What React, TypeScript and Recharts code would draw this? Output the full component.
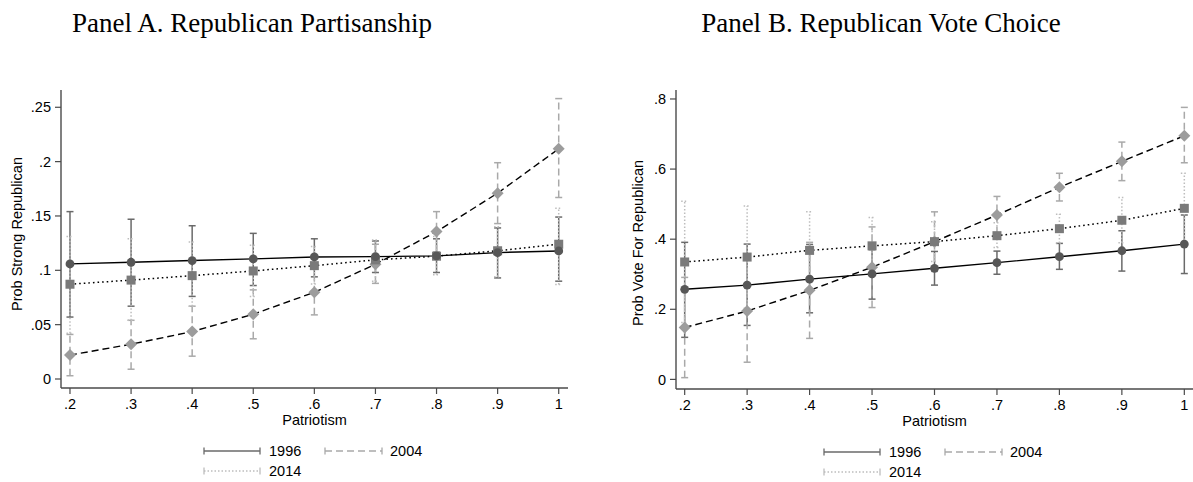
import React from 'react';
import { ComposedChart, Line, XAxis, YAxis, ErrorBar } from 'recharts';

// ---------- data ----------
const patriotism = [0.2, 0.3, 0.4, 0.5, 0.6, 0.7, 0.8, 0.9, 1];
const xTicks = [0.2, 0.3, 0.4, 0.5, 0.6, 0.7, 0.8, 0.9, 1];
const yTicksA = [0, 0.05, 0.1, 0.15, 0.2, 0.25];
const yTicksB = [0, 0.2, 0.4, 0.6, 0.8];
const years = ['1996', '2004', '2014'];

// Panel A: Prob Strong Republican
const a1996 = [0.1059, 0.1074, 0.109, 0.1105, 0.1123, 0.1126, 0.1133, 0.1163, 0.1178];
const a1996Low = [0.057, 0.067, 0.076, 0.086, 0.094, 0.098, 0.098, 0.093, 0.09];
const a1996High = [0.154, 0.147, 0.141, 0.134, 0.129, 0.127, 0.129, 0.139, 0.149];
const a2004 = [0.022, 0.032, 0.0436, 0.0596, 0.0798, 0.1056, 0.1356, 0.171, 0.2118];
const a2004Low = [0.003, 0.009, 0.021, 0.037, 0.059, 0.088, 0.117, 0.143, 0.167];
const a2004High = [0.041, 0.054, 0.067, 0.082, 0.101, 0.124, 0.154, 0.199, 0.258];
const a2014 = [0.0872, 0.091, 0.0951, 0.0994, 0.1043, 0.1096, 0.113, 0.118, 0.124];
const a2014Low = [0.042, 0.054, 0.067, 0.076, 0.0875, 0.09, 0.096, 0.094, 0.087];
const a2014High = [0.131, 0.129, 0.126, 0.123, 0.122, 0.128, 0.131, 0.14, 0.157];

// Panel B: Prob Vote For Republican
const b1996 = [0.257, 0.269, 0.286, 0.301, 0.317, 0.333, 0.35, 0.367, 0.386];
const b1996Low = [0.12, 0.154, 0.19, 0.229, 0.269, 0.3, 0.314, 0.309, 0.302];
const b1996High = [0.391, 0.386, 0.385, 0.37, 0.365, 0.366, 0.388, 0.424, 0.469];
const b2004 = [0.148, 0.195, 0.254, 0.32, 0.393, 0.469, 0.548, 0.622, 0.695];
const b2004Low = [0.005, 0.049, 0.117, 0.205, 0.308, 0.416, 0.509, 0.567, 0.618];
const b2004High = [0.291, 0.341, 0.391, 0.435, 0.478, 0.522, 0.588, 0.677, 0.776];
const b2014 = [0.335, 0.349, 0.368, 0.381, 0.393, 0.41, 0.43, 0.454, 0.488];
const b2014Low = [0.162, 0.203, 0.257, 0.3, 0.336, 0.376, 0.389, 0.39, 0.388];
const b2014High = [0.508, 0.495, 0.478, 0.462, 0.45, 0.447, 0.471, 0.519, 0.588];

// ---------- helpers ----------
type Series = { v: number[]; lo: number[]; hi: number[] };

function buildRows(s96: Series, s04: Series, s14: Series) {
  return patriotism.map((x, i) => ({
    x,
    v1996: s96.v[i],
    e1996: [s96.v[i] - s96.lo[i], s96.hi[i] - s96.v[i]],
    v2004: s04.v[i],
    e2004: [s04.v[i] - s04.lo[i], s04.hi[i] - s04.v[i]],
    v2014: s14.v[i],
    e2014: [s14.v[i] - s14.lo[i], s14.hi[i] - s14.v[i]],
  }));
}

const rowsA = buildRows(
  { v: a1996, lo: a1996Low, hi: a1996High },
  { v: a2004, lo: a2004Low, hi: a2004High },
  { v: a2014, lo: a2014Low, hi: a2014High }
);
const rowsB = buildRows(
  { v: b1996, lo: b1996Low, hi: b1996High },
  { v: b2004, lo: b2004Low, hi: b2004High },
  { v: b2014, lo: b2014Low, hi: b2014High }
);

const fmt = (v: number) => {
  if (v === 0) return '0';
  if (v === 1) return '1';
  return String(v).replace(/^0/, '');
};

const SANS = '"Liberation Sans", Arial, Helvetica, sans-serif';
const SERIF = '"Liberation Serif", "Times New Roman", Times, serif';
const AXIS = '#4a4a4a';

const CI = {
  '1996': { stroke: '#6a6a6a', dash: undefined as string | undefined },
  '2004': { stroke: '#a9a9a9', dash: '7 4' },
  '2014': { stroke: '#bdbdbd', dash: '1.5 2' },
};

const circleDot = (p: any) => (
  <circle key={`c${p.index}`} cx={p.cx} cy={p.cy} r={4.4} fill="#575757" stroke="none" />
);
const diamondDot = (p: any) => (
  <path
    key={`d${p.index}`}
    d={`M${p.cx},${p.cy - 6} L${p.cx + 6},${p.cy} L${p.cx},${p.cy + 6} L${p.cx - 6},${p.cy} Z`}
    fill="#9c9c9c"
    stroke="none"
  />
);
const squareDot = (p: any) => (
  <rect key={`s${p.index}`} x={p.cx - 4.5} y={p.cy - 4.5} width={9} height={9} fill="#7a7a7a" stroke="none" />
);

function Panel(props: {
  rows: any[];
  yTicks: number[];
  xDomain: [number, number];
  yDomain: [number, number];
  width: number;
  margin: { top: number; right: number; bottom: number; left: number };
}) {
  const { rows, yTicks, xDomain, yDomain, width, margin } = props;
  return (
    <ComposedChart width={width} height={482} data={rows} margin={margin}>
      <XAxis
        dataKey="x"
        type="number"
        domain={xDomain}
        allowDataOverflow
        ticks={xTicks}
        interval={0}
        tickFormatter={fmt}
        height={30}
        tickSize={6}
        tickMargin={5}
        axisLine={{ stroke: AXIS, strokeWidth: 1.4 }}
        tickLine={{ stroke: AXIS, strokeWidth: 1.2 }}
        tick={{ fill: '#000', fontSize: 14.5, fontFamily: SANS }}
      />
      <YAxis
        type="number"
        domain={yDomain}
        allowDataOverflow
        ticks={yTicks}
        interval={0}
        tickFormatter={fmt}
        width={50}
        tickSize={6}
        tickMargin={4}
        axisLine={{ stroke: AXIS, strokeWidth: 1.4 }}
        tickLine={{ stroke: AXIS, strokeWidth: 1.2 }}
        tick={{ fill: '#000', fontSize: 14.5, fontFamily: SANS }}
      />
      {/* confidence intervals first */}
      {years.map((yr) => (
        <Line
          key={`ci${yr}`}
          dataKey={`v${yr}`}
          stroke="none"
          dot={false}
          activeDot={false}
          legendType="none"
          isAnimationActive={false}
        >
          <ErrorBar
            dataKey={`e${yr}`}
            direction="y"
            width={3.5}
            stroke={CI[yr as '1996'].stroke}
            strokeWidth={1.5}
            strokeDasharray={CI[yr as '1996'].dash}
            isAnimationActive={false}
          />
        </Line>
      ))}
      <Line
        dataKey="v2004"
        stroke="#000"
        strokeWidth={1.4}
        strokeDasharray="7 4"
        dot={diamondDot}
        activeDot={false}
        isAnimationActive={false}
      />
      <Line
        dataKey="v2014"
        stroke="#000"
        strokeWidth={1.5}
        strokeDasharray="1.6 3"
        dot={squareDot}
        activeDot={false}
        isAnimationActive={false}
      />
      <Line
        dataKey="v1996"
        stroke="#000"
        strokeWidth={1.4}
        dot={circleDot}
        activeDot={false}
        isAnimationActive={false}
      />
    </ComposedChart>
  );
}

function LegendItem(props: { x1: number; x2: number; y: number; yr: '1996' | '2004' | '2014'; tx: number }) {
  const { x1, x2, y, yr, tx } = props;
  const st = CI[yr];
  return (
    <g>
      <g stroke={st.stroke} strokeWidth={1.5} strokeDasharray={st.dash}>
        <line x1={x1} y1={y} x2={x2} y2={y} />
      </g>
      <line x1={x1} y1={y - 3.5} x2={x1} y2={y + 3.5} stroke={st.stroke} strokeWidth={1.3} />
      <line x1={x2} y1={y - 3.5} x2={x2} y2={y + 3.5} stroke={st.stroke} strokeWidth={1.3} />
      <text x={tx} y={y + 5} fontSize={14.5} fontFamily={SANS} fill="#000">
        {yr}
      </text>
    </g>
  );
}

export default function App() {
  return (
    <div style={{ position: 'absolute', left: 0, top: 0, width: 1193, height: 482, background: '#fff', overflow: 'hidden' }}>
      <div style={{ position: 'absolute', left: 0, top: 0 }}>
        <Panel
          rows={rowsA}
          yTicks={yTicksA}
          xDomain={[0.1853, 1.0152]}
          yDomain={[-0.00828, 0.2659]}
          width={600}
          margin={{ top: 90, right: 32, bottom: 64, left: 11 }}
        />
      </div>
      <div style={{ position: 'absolute', left: 600, top: 0 }}>
        <Panel
          rows={rowsB}
          yTicks={yTicksB}
          xDomain={[0.1861, 1.0139]}
          yDomain={[-0.0274, 0.8256]}
          width={593}
          margin={{ top: 90, right: 0, bottom: 63, left: 26 }}
        />
      </div>
      <svg
        width={1193}
        height={482}
        style={{ position: 'absolute', left: 0, top: 0, pointerEvents: 'none' }}
      >
        <text x={252} y={32} textAnchor="middle" fontSize={27} fontFamily={SERIF} fill="#000">
          Panel A. Republican Partisanship
        </text>
        <text x={881} y={32} textAnchor="middle" fontSize={27} fontFamily={SERIF} fill="#000">
          Panel B. Republican Vote Choice
        </text>
        <text
          transform="translate(22,234) rotate(-90)"
          textAnchor="middle"
          fontSize={14.5}
          fontFamily={SANS}
          fill="#000"
        >
          Prob Strong Republican
        </text>
        <text
          transform="translate(643,243) rotate(-90)"
          textAnchor="middle"
          fontSize={14.5}
          fontFamily={SANS}
          fill="#000"
        >
          Prob Vote For Republican
        </text>
        <text x={314.5} y={425} textAnchor="middle" fontSize={14.5} fontFamily={SANS} fill="#000">
          Patriotism
        </text>
        <text x={934.5} y={426} textAnchor="middle" fontSize={14.5} fontFamily={SANS} fill="#000">
          Patriotism
        </text>
        <LegendItem x1={204} x2={260} y={451} yr="1996" tx={269} />
        <LegendItem x1={325} x2={382} y={451} yr="2004" tx={390} />
        <LegendItem x1={204} x2={260} y={471} yr="2014" tx={269} />
        <LegendItem x1={824} x2={880} y={452} yr="1996" tx={889} />
        <LegendItem x1={945} x2={1002} y={452} yr="2004" tx={1010} />
        <LegendItem x1={824} x2={880} y={472} yr="2014" tx={889} />
      </svg>
    </div>
  );
}
